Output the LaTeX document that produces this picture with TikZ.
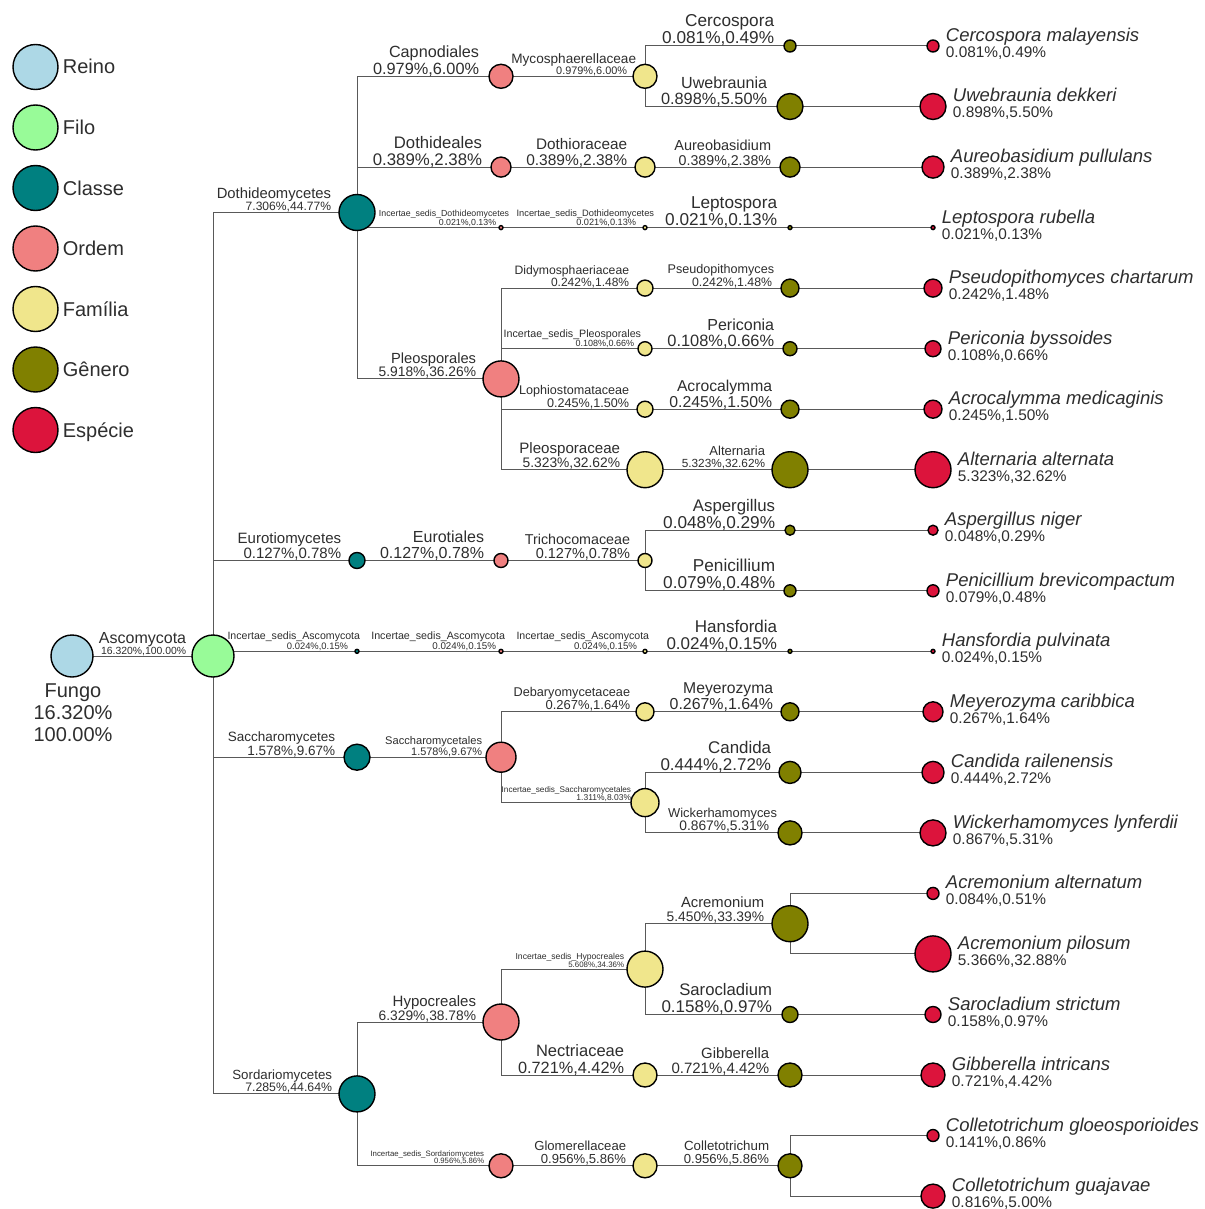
\documentclass[tikz,border=0pt]{standalone}
\usepackage{fontspec}
\setmainfont{Liberation Sans}
\usetikzlibrary{calc}
\pgfdeclarelayer{bg}
\pgfsetlayers{bg,main}
\definecolor{reino}{HTML}{ADD8E6}
\definecolor{filo}{HTML}{98FB98}
\definecolor{classe}{HTML}{008080}
\definecolor{ordem}{HTML}{F08080}
\definecolor{familia}{HTML}{F0E68C}
\definecolor{genero}{HTML}{808000}
\definecolor{especie}{HTML}{DC143C}
\tikzset{
  tx/.style={circle, draw=black, line width=1.4pt, inner sep=0pt, minimum size=#1*2pt},
  txt/.style={inner sep=0pt, text=black!82},
  edge/.style={draw=black!65, line width=1pt},
}
% edge label: node, name shift, name size, name, pct shift, pct size, pct
\newcommand\elab[7]{%
  \node[txt, anchor=base east, font=\fontsize{#6}{#6}\selectfont] (#1p) at ([xshift=#5pt, yshift=2pt]#1.west) {#7};
  \node[txt, anchor=base east, font=\fontsize{#3}{#3}\selectfont] (#1n) at ([xshift=#2pt, yshift={2pt+#6pt}]#1.west) {#4};
}
% species label
\newcommand\slab[3]{%
  \node[txt, anchor=base west, font=\fontsize{18.5}{18.5}\selectfont\itshape] (#1n) at ([xshift=6pt, yshift=4.5pt]#1.east) {#2};
  \node[txt, anchor=base west, font=\fontsize{15.4}{15.4}\selectfont] (#1p) at ([xshift=6pt, yshift=-11.5pt]#1.east) {#3};
}
\begin{document}
\begin{tikzpicture}[x=1pt,y=-1pt]
\begin{pgfonlayer}{bg}
\fill[white] (0,0) rectangle (1204,1209);
\end{pgfonlayer}
\useasboundingbox (0,0) rectangle (1204,1209);

% legend
\foreach \i/\c/\t [evaluate=\i as \yy using 67+60.5*(\i-1)] in {1/reino/Reino,2/filo/Filo,3/classe/Classe,4/ordem/Ordem,5/familia/Família,6/genero/Gênero,7/especie/Espécie}{
  \node[tx=22.5, fill=\c] (leg\i) at (35.5,\yy) {};
  \node[txt, anchor=base west, font=\fontsize{20}{20}\selectfont] (leg\i t) at ([xshift=4pt, yshift=-7pt]leg\i.east) {\t};
}

% root and phylum
\node[tx=21, fill=reino] (fungo) at (72,656) {};
\node[txt, anchor=north, align=center, font=\fontsize{20}{22}\selectfont] (fungot) at (73,684) {Fungo\\16.320\%\\100.00\%};
\node[tx=21, fill=filo] (asco) at (213,656) {};

% classes
\node[tx=18, fill=classe] (c1) at (357,212.5) {};
\node[tx=8, fill=classe] (c2) at (357,560.5) {};
\node[tx=2, fill=classe] (c3) at (357,651.3) {};
\node[tx=13, fill=classe] (c4) at (357,757.2) {};
\node[tx=18, fill=classe] (c5) at (357,1093.9) {};

% orders
\node[tx=12, fill=ordem] (o1) at (501,76.3) {};
\node[tx=10, fill=ordem] (o2) at (501,167.1) {};
\node[tx=2, fill=ordem] (o3) at (501,227.6) {};
\node[tx=18, fill=ordem] (o4) at (501,378.9) {};
\node[tx=7, fill=ordem] (o5) at (501,560.5) {};
\node[tx=2, fill=ordem] (o6) at (501,651.3) {};
\node[tx=15, fill=ordem] (o7) at (501,757.2) {};
\node[tx=18, fill=ordem] (o8) at (501,1022) {};
\node[tx=12, fill=ordem] (o9) at (501,1165.8) {};

% families
\node[tx=12, fill=familia] (f1) at (645,76.3) {};
\node[tx=10, fill=familia] (f2) at (645,167.1) {};
\node[tx=2, fill=familia] (f3) at (645,227.6) {};
\node[tx=8, fill=familia] (f4) at (645,288.1) {};
\node[tx=7, fill=familia] (f5) at (645,348.7) {};
\node[tx=8, fill=familia] (f6) at (645,409.2) {};
\node[tx=18, fill=familia] (f7) at (645,469.7) {};
\node[tx=7, fill=familia] (f8) at (645,560.5) {};
\node[tx=2, fill=familia] (f9) at (645,651.3) {};
\node[tx=9, fill=familia] (f10) at (645,711.8) {};
\node[tx=14, fill=familia] (f11) at (645,802.6) {};
\node[tx=18, fill=familia] (f12) at (645,969.1) {};
\node[tx=12, fill=familia] (f13) at (645,1075) {};
\node[tx=12, fill=familia] (f14) at (645,1165.8) {};

% genera
\node[tx=6, fill=genero] (g1) at (790,46) {};
\node[tx=13, fill=genero] (g2) at (790,106.5) {};
\node[tx=10, fill=genero] (g3) at (790,167.1) {};
\node[tx=2, fill=genero] (g4) at (790,227.6) {};
\node[tx=9, fill=genero] (g5) at (790,288.1) {};
\node[tx=7, fill=genero] (g6) at (790,348.7) {};
\node[tx=9, fill=genero] (g7) at (790,409.2) {};
\node[tx=18, fill=genero] (g8) at (790,469.7) {};
\node[tx=5, fill=genero] (g9) at (790,530.2) {};
\node[tx=6, fill=genero] (g10) at (790,590.8) {};
\node[tx=2, fill=genero] (g11) at (790,651.3) {};
\node[tx=9, fill=genero] (g12) at (790,711.8) {};
\node[tx=11, fill=genero] (g13) at (790,772.4) {};
\node[tx=12, fill=genero] (g14) at (790,832.9) {};
\node[tx=18, fill=genero] (g15) at (790,923.7) {};
\node[tx=8, fill=genero] (g16) at (790,1014.5) {};
\node[tx=12, fill=genero] (g17) at (790,1075) {};
\node[tx=12, fill=genero] (g18) at (790,1165.8) {};

% species
\node[tx=6, fill=especie] (s1) at (933,46) {};
\node[tx=13, fill=especie] (s2) at (933,106.5) {};
\node[tx=11, fill=especie] (s3) at (933,167.1) {};
\node[tx=2, fill=especie] (s4) at (933,227.6) {};
\node[tx=9, fill=especie] (s5) at (933,288.1) {};
\node[tx=8, fill=especie] (s6) at (933,348.7) {};
\node[tx=9, fill=especie] (s7) at (933,409.2) {};
\node[tx=18, fill=especie] (s8) at (933,469.7) {};
\node[tx=5, fill=especie] (s9) at (933,530.2) {};
\node[tx=6, fill=especie] (s10) at (933,590.8) {};
\node[tx=2, fill=especie] (s11) at (933,651.3) {};
\node[tx=10, fill=especie] (s12) at (933,711.8) {};
\node[tx=11, fill=especie] (s13) at (933,772.4) {};
\node[tx=13, fill=especie] (s14) at (933,832.9) {};
\node[tx=6, fill=especie] (s15) at (933,893.4) {};
\node[tx=18, fill=especie] (s16) at (933,953.9) {};
\node[tx=8, fill=especie] (s17) at (933,1014.5) {};
\node[tx=12, fill=especie] (s18) at (933,1075) {};
\node[tx=6, fill=especie] (s19) at (933,1135.5) {};
\node[tx=12, fill=especie] (s20) at (933,1196.1) {};

% edges
\begin{pgfonlayer}{bg}
\draw[edge] (fungo.center) -- (asco.center);
\foreach \p/\c in {asco/c1,asco/c2,asco/c3,asco/c4,asco/c5,
  c1/o1,c1/o2,c1/o3,c1/o4,c2/o5,c3/o6,c4/o7,c5/o8,c5/o9,
  o1/f1,o2/f2,o3/f3,o4/f4,o4/f5,o4/f6,o4/f7,o5/f8,o6/f9,o7/f10,o7/f11,o8/f12,o8/f13,o9/f14,
  f1/g1,f1/g2,f2/g3,f3/g4,f4/g5,f5/g6,f6/g7,f7/g8,f8/g9,f8/g10,f9/g11,f10/g12,f11/g13,f11/g14,f12/g15,f12/g16,f13/g17,f14/g18,
  g1/s1,g2/s2,g3/s3,g4/s4,g5/s5,g6/s6,g7/s7,g8/s8,g9/s9,g10/s10,g11/s11,g12/s12,g13/s13,g14/s14,g15/s15,g15/s16,g16/s17,g17/s18,g18/s19,g18/s20}{
  \draw[edge] (\p.center) |- (\c.center);
}
\end{pgfonlayer}

% edge labels
\elab{asco}{-5}{16}{Ascomycota}{-5}{10.4}{16.320\%,100.00\%}
\elab{c1}{-7}{14.8}{Dothideomycetes}{-7}{12.1}{7.306\%,44.77\%}
\elab{c2}{-7}{15}{Eurotiomycetes}{-7}{15}{0.127\%,0.78\%}
\elab{c3}{6}{10.6}{Incertae\_sedis\_Ascomycota}{-6}{9.4}{0.024\%,0.15\%}
\elab{c4}{-8}{13.5}{Saccharomycetes}{-8}{13.5}{1.578\%,9.67\%}
\elab{c5}{-6}{13.3}{Sordariomycetes}{-6}{12.3}{7.285\%,44.64\%}
\elab{o1}{-9}{16.2}{Capnodiales}{-9}{16.3}{0.979\%,6.00\%}
\elab{o2}{-8}{16.7}{Dothideales}{-8}{16.8}{0.389\%,2.38\%}
\elab{o3}{11}{8.8}{Incertae\_sedis\_Dothideomycetes}{-2}{8.8}{0.021\%,0.13\%}
\elab{o4}{-6}{14.7}{Pleosporales}{-6}{13.8}{5.918\%,36.26\%}
\elab{o5}{-9}{16}{Eurotiales}{-9}{16}{0.127\%,0.78\%}
\elab{o6}{7}{10.7}{Incertae\_sedis\_Ascomycota}{-2}{9.8}{0.024\%,0.15\%}
\elab{o7}{-3}{11.1}{Saccharomycetales}{-3}{10.9}{1.578\%,9.67\%}
\elab{o8}{-6}{15}{Hypocreales}{-6}{13.8}{6.329\%,38.78\%}
\elab{o9}{-4}{7.8}{Incertae\_sedis\_Sordariomycetes}{-4}{7.7}{0.956\%,5.86\%}
\elab{f1}{4}{13.6}{Mycosphaerellaceae}{-5}{10.9}{0.979\%,6.00\%}
\elab{f2}{-7}{15.3}{Dothioraceae}{-7}{15.5}{0.389\%,2.38\%}
\elab{f3}{12}{9.3}{Incertae\_sedis\_Dothideomycetes}{-6}{9.2}{0.021\%,0.13\%}
\elab{f4}{-7}{12.2}{Didymosphaeriaceae}{-7}{12}{0.242\%,1.48\%}
\elab{f5}{4}{10.7}{Incertae\_sedis\_Pleosporales}{-3}{9}{0.108\%,0.66\%}
\elab{f6}{-7}{12.6}{Lophiostomataceae}{-7}{12.6}{0.245\%,1.50\%}
\elab{f7}{-6}{15.1}{Pleosporaceae}{-6}{13.8}{5.323\%,32.62\%}
\elab{f8}{-7}{14.3}{Trichocomaceae}{-7}{14.5}{0.127\%,0.78\%}
\elab{f9}{7}{10.6}{Incertae\_sedis\_Ascomycota}{-5}{9.7}{0.024\%,0.15\%}
\elab{f10}{-5}{12.7}{Debaryomycetaceae}{-5}{13}{0.267\%,1.64\%}
\elab{f11}{1}{8.2}{Incertae\_sedis\_Saccharomycetales}{1}{8.5}{1.311\%,8.03\%}
\elab{f12}{-2}{8.6}{Incertae\_sedis\_Hypocreales}{-2}{7.9}{5.608\%,34.36\%}
\elab{f13}{-8}{16.5}{Nectriaceae}{-8}{16.3}{0.721\%,4.42\%}
\elab{f14}{-6}{13.1}{Glomerellaceae}{-6}{13.1}{0.956\%,5.86\%}
\elab{g1}{-9}{17.2}{Cercospora}{-9}{17.2}{0.081\%,0.49\%}
\elab{g2}{-9}{16.1}{Uwebraunia}{-9}{16.3}{0.898\%,5.50\%}
\elab{g3}{-8}{14.5}{Aureobasidium}{-8}{14.2}{0.389\%,2.38\%}
\elab{g4}{-10}{17.2}{Leptospora}{-10}{17.2}{0.021\%,0.13\%}
\elab{g5}{-6}{12.6}{Pseudopithomyces}{-8}{12.3}{0.242\%,1.48\%}
\elab{g6}{-8}{16}{Periconia}{-8}{16.4}{0.108\%,0.66\%}
\elab{g7}{-8}{15.7}{Acrocalymma}{-8}{15.8}{0.245\%,1.50\%}
\elab{g8}{-6}{13}{Alternaria}{-6}{11.8}{5.323\%,32.62\%}
\elab{g9}{-9}{16.8}{Aspergillus}{-9}{17.2}{0.048\%,0.29\%}
\elab{g10}{-8}{17.2}{Penicillium}{-8}{17.2}{0.079\%,0.48\%}
\elab{g11}{-10}{17}{Hansfordia}{-10}{17}{0.024\%,0.15\%}
\elab{g12}{-7}{15.7}{Meyerozyma}{-7}{15.9}{0.267\%,1.64\%}
\elab{g13}{-7}{16.9}{Candida}{-7}{17}{0.444\%,2.72\%}
\elab{g14}{0}{12.9}{Wickerhamomyces}{-8}{13.8}{0.867\%,5.31\%}
\elab{g15}{-7}{14.8}{Acremonium}{-7}{13.8}{5.450\%,33.39\%}
\elab{g16}{-9}{16.7}{Sarocladium}{-9}{17}{0.158\%,0.97\%}
\elab{g17}{-8}{14.9}{Gibberella}{-8}{15}{0.721\%,4.42\%}
\elab{g18}{-8}{13.3}{Colletotrichum}{-8}{13.1}{0.956\%,5.86\%}

% species labels
\slab{s1}{Cercospora malayensis}{0.081\%,0.49\%}
\slab{s2}{Uwebraunia dekkeri}{0.898\%,5.50\%}
\slab{s3}{Aureobasidium pullulans}{0.389\%,2.38\%}
\slab{s4}{Leptospora rubella}{0.021\%,0.13\%}
\slab{s5}{Pseudopithomyces chartarum}{0.242\%,1.48\%}
\slab{s6}{Periconia byssoides}{0.108\%,0.66\%}
\slab{s7}{Acrocalymma medicaginis}{0.245\%,1.50\%}
\slab{s8}{Alternaria alternata}{5.323\%,32.62\%}
\slab{s9}{Aspergillus niger}{0.048\%,0.29\%}
\slab{s10}{Penicillium brevicompactum}{0.079\%,0.48\%}
\slab{s11}{Hansfordia pulvinata}{0.024\%,0.15\%}
\slab{s12}{Meyerozyma caribbica}{0.267\%,1.64\%}
\slab{s13}{Candida railenensis}{0.444\%,2.72\%}
\slab{s14}{Wickerhamomyces lynferdii}{0.867\%,5.31\%}
\slab{s15}{Acremonium alternatum}{0.084\%,0.51\%}
\slab{s16}{Acremonium pilosum}{5.366\%,32.88\%}
\slab{s17}{Sarocladium strictum}{0.158\%,0.97\%}
\slab{s18}{Gibberella intricans}{0.721\%,4.42\%}
\slab{s19}{Colletotrichum gloeosporioides}{0.141\%,0.86\%}
\slab{s20}{Colletotrichum guajavae}{0.816\%,5.00\%}
\end{tikzpicture}
\end{document}
